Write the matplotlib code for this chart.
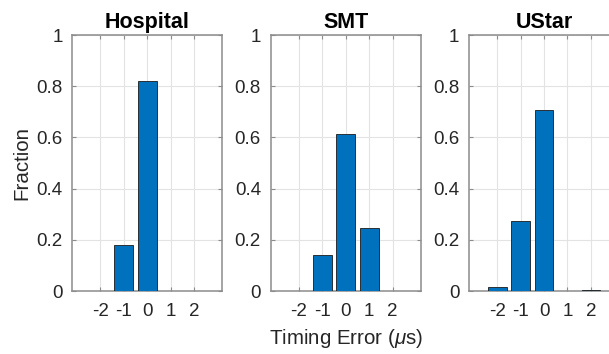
import numpy as np
import matplotlib
matplotlib.use("Agg")
import matplotlib.pyplot as plt

plt.rcParams['font.family'] = ['Liberation Sans', 'DejaVu Sans']
plt.rcParams['mathtext.fontset'] = 'custom'
plt.rcParams['mathtext.it'] = 'Liberation Sans:italic'

# data
errors     = [-2, -1, 0, 1, 2]
tick_text  = ['-2', '-1', '0', '1', '2']
titles     = ['Hospital', 'SMT', 'UStar']
hospital   = [0.0, 0.18, 0.82, 0.0, 0.0]
smt        = [0.0, 0.139, 0.614, 0.246, 0.0]
ustar      = [0.015, 0.273, 0.707, 0.0, 0.003]
yticks     = [0, 0.2, 0.4, 0.6, 0.8, 1]
ytick_text = ['0', '0.2', '0.4', '0.6', '0.8', '1']

W, H = 609., 354.
fig = plt.figure(figsize=[W/100, H/100], dpi=100)

lefts = [72.3, 270.7, 469.0]
bot, top = 291., 35.
width = 150.

txt_col = '#262626'
for left, title, vals in zip(lefts, titles, [hospital, smt, ustar]):
    ax = fig.add_axes([left/W, (H-bot)/H, width/W, (bot-top)/H])
    ax.bar(errors, vals, width=0.8, color='#0072BD', edgecolor='#1a1a1a',
           linewidth=0.6, zorder=3)
    ax.set_xlim(-3.2, 3.2)
    ax.set_ylim(0, 1)
    ax.set_xticks(errors)
    ax.set_xticklabels(tick_text)
    ax.set_yticks(yticks)
    ax.set_yticklabels(ytick_text)
    ax.grid(True, color='#e3e3e3', linewidth=0.8, zorder=0)
    ax.set_axisbelow(True)
    for s in ax.spines.values():
        s.set_color('#8c8c8c')
        s.set_linewidth(1.1)
    ax.tick_params(direction='in', length=3, width=0.8, color='#8c8c8c',
                   labelsize=13.5, labelcolor=txt_col, top=True, right=True)
    ax.tick_params(axis='x', pad=9)
    ax.tick_params(axis='y', pad=7)
    ax.set_title(title, fontsize=15.5, fontweight='bold', color='black', pad=5)

fig.text(346/W, 1-338/H, r'Timing Error ($\mu$s)', fontsize=14.8,
         color=txt_col, ha='center', va='center')
fig.text(22/W, 1-163/H, 'Fraction', fontsize=14.8, color=txt_col,
         rotation=90, ha='center', va='center')

fig.savefig("out.png", dpi=100)
